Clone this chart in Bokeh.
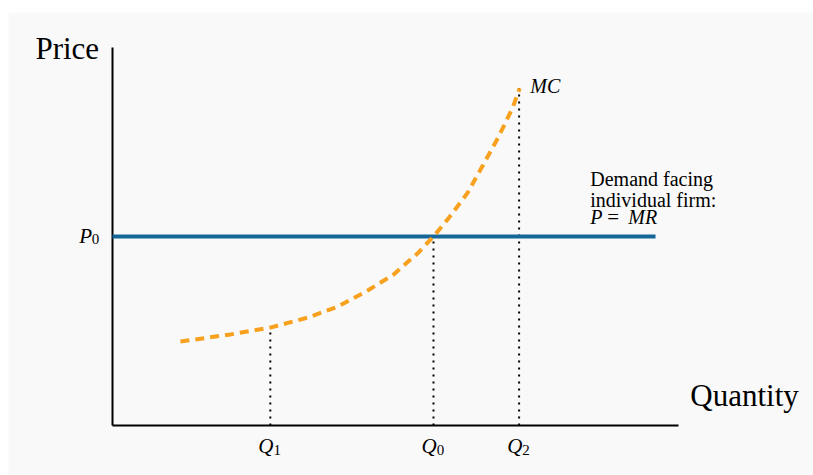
from bokeh.plotting import figure
from bokeh.models import Range1d, Label
from bokeh.embed import file_html
from bokeh.resources import INLINE

# ---- data ----
mc_q = [1.27, 2.21, 2.95, 3.66, 4.22, 4.77, 5.25, 5.70, 6.00, 6.28, 6.64, 6.93, 7.21, 7.48, 7.61]
mc_p = [2.22, 2.41, 2.59, 2.86, 3.15, 3.57, 3.99, 4.55, 5.00, 5.48, 6.16, 6.90, 7.62, 8.41, 8.92]
demand_q = [0.0, 10.15]
demand_p = [5.0, 5.0]
q_ticks = [2.95, 6.00, 7.60]
q_tops = [2.59, 5.00, 8.92]
q_subs = ["1", "0", "2"]
x_axis_end = 10.58
y_axis_end = 10.0

SERIF = "Liberation Serif"
BG = "#f9f9f9"

p = figure(width=813, height=475, output_backend="svg", toolbar_location=None,
           x_range=Range1d(-1.944, 13.103), y_range=Range1d(-1.323, 10.926),
           x_axis_type=None, y_axis_type=None,
           min_border_left=8, min_border_right=0, min_border_top=12, min_border_bottom=0,
           background_fill_color=BG, border_fill_color="white", outline_line_color=None)
p.grid.visible = False

# axes
p.line([0, x_axis_end], [0, 0], line_color="black", line_width=2)
p.line([0, 0], [0, y_axis_end], line_color="black", line_width=2)

# dotted guide lines
for q, top in zip(q_ticks, q_tops):
    p.line([q, q], [0, top], line_color="black", line_width=2, line_dash="2 5")

# demand line
p.line(demand_q, demand_p, line_color="#15679a", line_width=4)

# MC curve
p.line(mc_q, mc_p, line_color="#f7a11f", line_width=4, line_dash="9 6")

def lab(x, y, text, size, style="normal", align="left"):
    p.add_layout(Label(x=x, y=y, text=text, text_font=SERIF, text_font_size=f"{size}px",
                       text_font_style=style, text_align=align, text_baseline="alphabetic",
                       text_color="black"))

lab(-0.25, 9.97, "Price", 31, align="right")
lab(10.80, 0.79, "Quantity", 31)

# Q tick labels
for q, s in zip(q_ticks, q_subs):
    lab(q + 0.06, -0.53, "Q", 21, "italic", "right")
    lab(q + 0.06, -0.65, s, 15)

# P0 label
lab(-0.38, 5.01, "P", 21, "italic", "right")
lab(-0.39, 4.93, "0", 15)

# MC label
lab(7.81, 8.97, "MC", 20, "italic")

# demand annotation
lab(8.93, 6.51, "Demand facing", 20)
lab(8.93, 5.96, "individual firm:", 20)
lab(8.93, 5.51, "P", 20, "italic")
lab(9.25, 5.51, "=", 21)
lab(9.64, 5.51, "MR", 20, "italic")

open("out.html", "w").write(file_html(p, INLINE))
